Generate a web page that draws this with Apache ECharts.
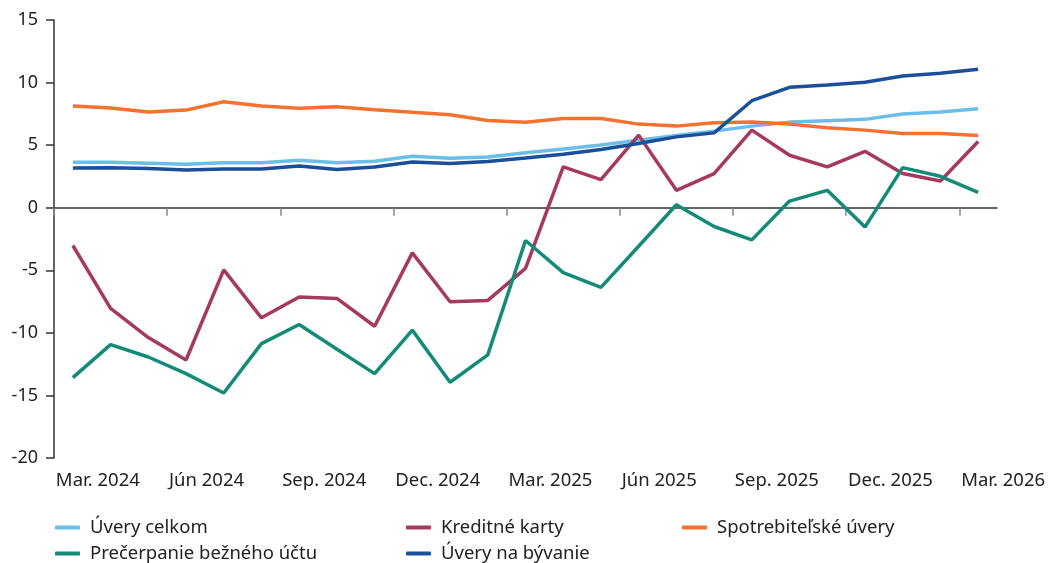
<!DOCTYPE html>
<html>
<head>
<meta charset="utf-8">
<script src="https://cdn.jsdelivr.net/npm/echarts@6/dist/echarts.min.js"></script>
<style>
html,body{margin:0;padding:0;background:#fff;}
#chart{width:1050px;height:563px;}
</style>
</head>
<body>
<div id="chart"></div>
<script>
const categories = [
  'Mar. 2024','Apr. 2024','Máj 2024','Jún 2024','Júl 2024','Aug. 2024','Sep. 2024','Okt. 2024','Nov. 2024','Dec. 2024',
  'Jan. 2025','Feb. 2025','Mar. 2025','Apr. 2025','Máj 2025','Jún 2025','Júl 2025','Aug. 2025','Sep. 2025','Okt. 2025','Nov. 2025','Dec. 2025',
  'Jan. 2026','Feb. 2026','Mar. 2026'
];
const uveryCelkom = [3.63,3.63,3.55,3.47,3.6,3.6,3.79,3.6,3.71,4.11,3.95,4.06,4.4,4.7,5.02,5.4,5.77,6.12,6.52,6.84,6.95,7.06,7.48,7.64,7.91];
const kreditneKarty = [-3.02,-8.05,-10.38,-12.17,-4.97,-8.8,-7.14,-7.25,-9.47,-3.61,-7.51,-7.41,-4.85,3.26,2.24,5.8,1.39,2.73,6.2,4.19,3.26,4.51,2.73,2.14,5.29];
const spotrebitelske = [8.12,7.97,7.64,7.8,8.47,8.12,7.94,8.07,7.83,7.62,7.43,6.97,6.83,7.13,7.13,6.68,6.52,6.79,6.84,6.68,6.39,6.2,5.93,5.93,5.77];
const precerpanie = [-13.58,-10.94,-11.93,-13.26,-14.81,-10.86,-9.33,-11.31,-13.26,-9.78,-13.95,-11.76,-2.62,-5.19,-6.37,-3.08,0.24,-1.5,-2.57,0.53,1.39,-1.55,3.2,2.51,1.23];
const uveryByvanie = [3.18,3.2,3.13,3.02,3.1,3.1,3.34,3.05,3.26,3.66,3.53,3.69,3.97,4.27,4.65,5.13,5.66,5.98,8.55,9.62,9.81,10.02,10.53,10.75,11.07];

const names = ['Úvery celkom','Kreditné karty','Spotrebiteľské úvery','Prečerpanie bežného účtu','Úvery na bývanie'];
const colors = ['#6BBDEA','#A5395E','#F37230','#138B78','#1C4F99'];
const dataSets = [uveryCelkom, kreditneKarty, spotrebitelske, precerpanie, uveryByvanie];

const FONT = '"Noto Sans", sans-serif';
const chart = echarts.init(document.getElementById('chart'));
const legendBase = {
  orient: 'vertical', top: 518, padding: 0, itemWidth: 25, itemHeight: 4, itemGap: 7,
  icon: 'roundRect',
  textStyle: {fontFamily: FONT, fontSize: 18.5, lineHeight: 18, color: '#222', padding: [0,0,0,5]}
};
chart.setOption({
  animation: false,
  color: colors,
  grid: {left: 54, right: 53, top: 20, bottom: 105},
  legend: [
    Object.assign({}, legendBase, {left: 55, data: [names[0], names[3]]}),
    Object.assign({}, legendBase, {left: 406, data: [names[1], names[4]]}),
    Object.assign({}, legendBase, {left: 682, data: [names[2]]})
  ],
  xAxis: [
    {
      type: 'category', data: categories, boundaryGap: true, position: 'bottom',
      axisLine: {show: false, onZero: false}, axisTick: {show: false},
      axisLabel: {interval: 2, align: 'left', padding: [0,0,0,-17], margin: 13,
        fontFamily: FONT, fontSize: 18.5, color: '#222'}
    },
    {
      type: 'category', data: categories.concat(['']), boundaryGap: false, position: 'bottom',
      axisLine: {show: true, onZero: true, lineStyle: {color: '#333', width: 1.5}},
      axisTick: {show: true, interval: 2, length: 8, inside: false, lineStyle: {color: '#888', width: 1.5}},
      axisLabel: {show: false}
    }
  ],
  yAxis: {
    type: 'value', min: -20, max: 15, interval: 5,
    axisLine: {show: true, onZero: false, lineStyle: {color: '#333', width: 1.5}},
    axisTick: {show: true, length: 8, lineStyle: {color: '#333', width: 1.5}},
    splitLine: {show: false},
    axisLabel: {margin: 16, fontFamily: FONT, fontSize: 18, color: '#222'}
  },
  series: dataSets.map((d, i) => ({
    name: names[i], type: 'line', data: d, xAxisIndex: 0,
    symbol: 'none', lineStyle: {width: 3.5, color: colors[i]},
    itemStyle: {color: colors[i]}
  }))
});
</script>
</body>
</html>
